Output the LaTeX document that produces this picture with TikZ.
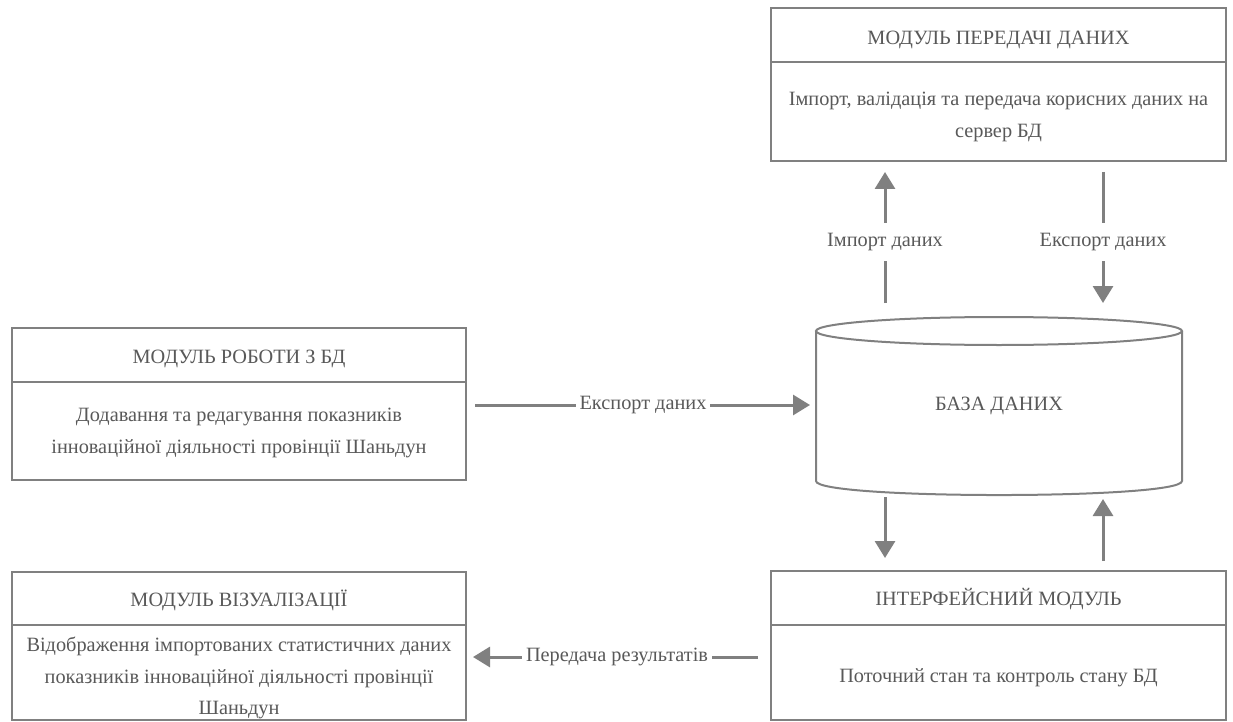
\documentclass[tikz,border=0pt]{standalone}
\usepackage{fontspec}
\setmainfont{Liberation Serif}
\usetikzlibrary{arrows.meta,calc}
\definecolor{lc}{HTML}{808080}
\definecolor{tc}{HTML}{595959}
\begin{document}
\begin{tikzpicture}[x=1pt,y=-1pt,
  box/.style={draw=lc,line width=2pt,rectangle,inner sep=0pt},
  divider/.style={draw=lc,line width=2pt},
  ttl/.style={text=tc,font=\fontsize{20.3}{24}\selectfont,inner sep=0pt},
  body/.style={text=tc,font=\fontsize{20.3}{31.5}\selectfont,align=center,inner sep=0pt},
  conn/.style={draw=lc,line width=3pt,-{Triangle[width=20pt,length=17pt]}},
  lbl/.style={fill=white,text=tc,font=\fontsize{20.3}{24}\selectfont,inner xsep=4pt,inner ysep=10pt}]
\useasboundingbox (0,0) rectangle (1233,722);
\fill[white] (0,0) rectangle (1233,722);

% transfer module
\node[box,minimum width=455pt,minimum height=153pt] (tr) at (998.5,84.5) {};
\draw[divider] ($(tr.north west)+(0,55)$) -- ($(tr.north east)+(0,55)$);
\node[ttl] (trh) at (998.5,40) {МОДУЛЬ ПЕРЕДАЧІ ДАНИХ};
\node[body] (trb) at (998.5,117) {Імпорт, валідація та передача корисних даних на\\сервер БД};

% db work module
\node[box,minimum width=454pt,minimum height=152pt] (dbw) at (239,404) {};
\draw[divider] ($(dbw.north west)+(0,55)$) -- ($(dbw.north east)+(0,55)$);
\node[ttl] (dbwh) at (239,359) {МОДУЛЬ РОБОТИ З БД};
\node[body] (dbwb) at (239,433) {Додавання та редагування показників\\інноваційної діяльності провінції Шаньдун};

% visualization module
\node[box,minimum width=454pt,minimum height=148pt] (vis) at (239,646) {};
\draw[divider] ($(vis.north west)+(0,54)$) -- ($(vis.north east)+(0,54)$);
\node[ttl] (vish) at (239,600) {МОДУЛЬ ВІЗУАЛІЗАЦІЇ};
\node[body] (visb) at (239,678) {Відображення імпортованих статистичних даних\\показників інноваційної діяльності провінції\\Шаньдун};

% interface module
\node[box,minimum width=455pt,minimum height=149pt] (itf) at (998.5,645.5) {};
\draw[divider] ($(itf.north west)+(0,55)$) -- ($(itf.north east)+(0,55)$);
\node[ttl] (itfh) at (998.5,599) {ІНТЕРФЕЙСНИЙ МОДУЛЬ};
\node[body] (itfb) at (998.5,678) {Поточний стан та контроль стану БД};

% database cylinder
\draw[lc,line width=2pt,fill=white] (816,331) -- (816,481)
  .. controls (816,499.7) and (1182,499.7) .. (1182,481) -- (1182,331);
\draw[lc,line width=2pt,fill=white] (999,331) ellipse [x radius=183pt, y radius=14pt];
\node[ttl] (db) at (999,406) {БАЗА ДАНИХ};

% connector end points
\coordinate (imA) at (885,303);
\coordinate (imB) at (885,172);
\coordinate (exA) at (1103,172);
\coordinate (exB) at (1103,303);
\coordinate (hzA) at (475,405);
\coordinate (hzB) at (810,405);
\coordinate (dnA) at (885,497);
\coordinate (dnB) at (885,558);
\coordinate (upA) at (1103,561);
\coordinate (upB) at (1103,499);
\coordinate (rsA) at (758,657);
\coordinate (rsB) at (473,657);

\draw[conn] (imA) -- (imB);
\node[lbl] (limp) at (885,242) {Імпорт даних};
\draw[conn] (exA) -- (exB);
\node[lbl] (lexp) at (1103,242) {Експорт даних};
\draw[conn] (hzA) -- (hzB);
\node[lbl] (lhz) at (643,405) {Експорт даних};
\draw[conn] (dnA) -- (dnB);
\draw[conn] (upA) -- (upB);
\draw[conn] (rsA) -- (rsB);
\node[lbl] (lrs) at (617,657) {Передача результатів};
\end{tikzpicture}
\end{document}
